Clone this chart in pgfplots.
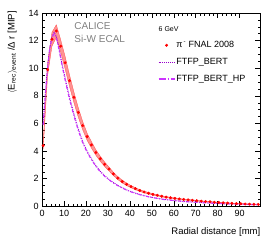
\documentclass[border=0pt]{standalone}
\usepackage{pgfplots}
\pgfplotsset{compat=1.18}
\usepackage{pgfplotstable}
\usepgfplotslibrary{fillbetween}
\usepackage{fontspec}
\setmainfont{Liberation Sans}
\definecolor{bert}{RGB}{153,0,204}
\definecolor{berthp}{RGB}{204,51,255}
\definecolor{band}{RGB}{255,120,120}

\pgfplotstableread{
x y e
0.5 4.4 0.25
2.5 9.9 0.45
4.5 12.1 0.5
6.5 12.7 0.45
8.5 11.6 0.45
10.5 10.4 0.45
12.5 9.1 0.42
14.5 7.9 0.38
16.5 6.8 0.34
18.5 5.85 0.3
20.5 5.05 0.26
22.5 4.45 0.23
24.5 3.9 0.2
26.5 3.45 0.18
28.5 3.05 0.16
30.5 2.7 0.14
32.5 2.35 0.12
34.5 2.05 0.11
36.5 1.8 0.1
38.5 1.6 0.09
40.5 1.43 0.08
42.5 1.28 0.07
44.5 1.15 0.065
46.5 1.04 0.06
48.5 0.95 0.055
50.5 0.87 0.05
52.5 0.80 0.045
54.5 0.73 0.04
56.5 0.67 0.04
58.5 0.62 0.035
60.5 0.58 0.035
62.5 0.54 0.03
64.5 0.50 0.03
66.5 0.47 0.03
68.5 0.44 0.03
70.5 0.41 0.025
72.5 0.38 0.025
74.5 0.35 0.025
76.5 0.33 0.02
78.5 0.30 0.02
80.5 0.28 0.02
82.5 0.26 0.02
84.5 0.24 0.02
86.5 0.22 0.02
88.5 0.20 0.02
90.5 0.19 0.02
92.5 0.17 0.02
94.5 0.16 0.02
96.5 0.15 0.02
98.5 0.14 0.02
}\datatab

\pgfplotstableread{
x y
0.5 6.0
1.5 8.2
2.5 10.1
3.5 11.5
4.5 12.3
5.5 12.6
6.5 12.3
7.5 11.6
8.5 10.8
9.5 10.0
10.5 9.3
12.5 7.9
14.5 6.7
16.5 5.6
18.5 4.7
20.5 4.0
22.5 3.45
24.5 2.95
26.5 2.55
28.5 2.22
30.5 1.95
32.5 1.72
34.5 1.52
36.5 1.35
38.5 1.2
40.5 1.07
42.5 0.96
44.5 0.86
47.5 0.74
50.5 0.64
55.5 0.51
60.5 0.42
65.5 0.35
70.5 0.30
75.5 0.25
80.5 0.21
85.5 0.18
90.5 0.15
95.5 0.13
98.5 0.12
}\berttab

\pgfplotstableread{
x y
0.5 5.9
1.5 8.1
2.5 10.0
3.5 11.4
4.5 12.2
5.5 12.5
6.5 12.2
7.5 11.5
8.5 10.7
9.5 9.9
10.5 9.15
12.5 7.75
14.5 6.55
16.5 5.5
18.5 4.6
20.5 3.92
22.5 3.38
24.5 2.9
26.5 2.5
28.5 2.18
30.5 1.92
32.5 1.69
34.5 1.5
36.5 1.33
38.5 1.18
40.5 1.05
42.5 0.94
44.5 0.85
47.5 0.73
50.5 0.63
55.5 0.5
60.5 0.41
65.5 0.34
70.5 0.29
75.5 0.245
80.5 0.205
85.5 0.175
90.5 0.15
95.5 0.13
98.5 0.12
}\hptab

\begin{document}
\begin{tikzpicture}
\begin{axis}[
  scale only axis,
  width=218pt, height=193pt,
  xmin=0, xmax=99.5, ymin=0, ymax=14,
  xtick={0,10,...,90}, ytick={0,2,...,14},
  minor x tick num=4, minor y tick num=3,
  major tick length=5pt, minor tick length=2.5pt,
  tick align=inside,
  tick style={black, line width=0.5pt},
  axis line style={line width=0.6pt},
  /pgf/number format/assume math mode=true,
  ticklabel style={font=\fontsize{9}{10}\selectfont},
  xticklabel style={yshift=-0.5pt},
  xlabel={Radial distance [mm]},
  xlabel style={at={(axis description cs:1,0)}, anchor=north east, inner sep=0pt, yshift=-21pt, font=\fontsize{9.5}{11}\selectfont},
  ylabel={$\langle$E\textsubscript{rec}$\rangle$\textsubscript{event} /Δ r [MIP]},
  ylabel style={at={(axis description cs:0,1)}, anchor=south east, inner sep=0pt, yshift=25pt, xshift=2pt, font=\fontsize{9.5}{11}\selectfont},
  legend style={at={(axis description cs:0.515,0.87)}, anchor=north west, draw=none, fill=none,
    font=\fontsize{9}{10}\selectfont, row sep=7pt,
    nodes={inner sep=1pt}},
  legend cell align=left,
]
\addplot[name path=up, draw=red!70, line width=0.3pt, forget plot] table[x=x, y expr=\thisrow{y}+\thisrow{e}] {\datatab};
\addplot[name path=lo, draw=red!70, line width=0.3pt, forget plot] table[x=x, y expr=\thisrow{y}-\thisrow{e}] {\datatab};
\addplot[band, fill opacity=0.8, forget plot] fill between[of=up and lo];
\addplot[only marks, mark=*, mark size=1.3pt, red, legend image code/.code={\fill[red] (8pt,0pt) circle (1.3pt);}] table[x=x, y=y] {\datatab};
\addlegendentry{π\textsuperscript{\,-} FNAL 2008}
\addplot[bert, line width=0.9pt, densely dotted, legend image code/.code={\draw[bert, line width=0.9pt, densely dotted] (0pt,0pt) -- (16pt,0pt);}] table[x=x, y=y] {\berttab};
\addlegendentry{FTFP\_BERT}
\addplot[berthp, line width=1.1pt, dash dot, legend image code/.code={\draw[berthp, line width=1.6pt, dash pattern=on 7pt off 2pt on 1pt off 2pt] (0pt,0pt) -- (16pt,0pt);}] table[x=x, y=y] {\hptab};
\addlegendentry{FTFP\_BERT\_HP}
\node[anchor=west, inner sep=0pt, font=\fontsize{7}{8}\selectfont] at (axis description cs:0.533,0.915) {6 GeV};
\node[anchor=north west, inner sep=0pt, align=left, text=black!50, font=\fontsize{10}{12.5}\selectfont] at (axis description cs:0.147,0.95) {CALICE\\Si-W ECAL};
\end{axis}
\pgfresetboundingbox
\path[use as bounding box] ([xshift=-42pt,yshift=-34pt]current axis.south west) rectangle ([xshift=13.5pt,yshift=13pt]current axis.north east);
\end{tikzpicture}
\end{document}
